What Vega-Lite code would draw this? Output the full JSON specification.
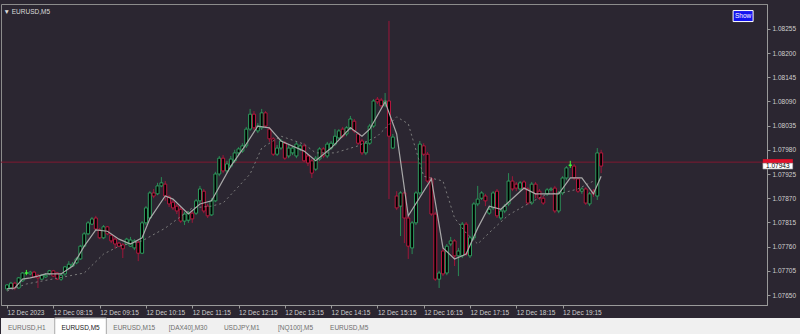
{
"$schema":"https://vega.github.io/schema/vega-lite/v6.json",
"background":"#2b2631",
"padding":{"left":0,"top":3,"right":0,"bottom":0},
"config":{"font":"Liberation Sans","view":{"stroke":null},"concat":{"spacing":1},"axis":{"labelOverlap":false}},
"datasets":{
"candles":[
{"t":"2023-12-12 07:15","o":1.07664,"h":1.07675,"l":1.07659,"c":1.07673},
{"t":"2023-12-12 07:20","o":1.07666,"h":1.07680,"l":1.07664,"c":1.07677},
{"t":"2023-12-12 07:25","o":1.07677,"h":1.07680,"l":1.07661,"c":1.07666},
{"t":"2023-12-12 07:30","o":1.07666,"h":1.07691,"l":1.07664,"c":1.07689},
{"t":"2023-12-12 07:35","o":1.07682,"h":1.07702,"l":1.07680,"c":1.07700},
{"t":"2023-12-12 07:40","o":1.07700,"h":1.07707,"l":1.07695,"c":1.07700},
{"t":"2023-12-12 07:45","o":1.07698,"h":1.07705,"l":1.07695,"c":1.07702},
{"t":"2023-12-12 07:50","o":1.07702,"h":1.07705,"l":1.07689,"c":1.07691},
{"t":"2023-12-12 07:55","o":1.07695,"h":1.07698,"l":1.07666,"c":1.07689},
{"t":"2023-12-12 08:00","o":1.07686,"h":1.07698,"l":1.07684,"c":1.07695},
{"t":"2023-12-12 08:05","o":1.07691,"h":1.07700,"l":1.07689,"c":1.07695},
{"t":"2023-12-12 08:10","o":1.07698,"h":1.07707,"l":1.07695,"c":1.07705},
{"t":"2023-12-12 08:15","o":1.07705,"h":1.07707,"l":1.07691,"c":1.07693},
{"t":"2023-12-12 08:20","o":1.07700,"h":1.07702,"l":1.07684,"c":1.07686},
{"t":"2023-12-12 08:25","o":1.07686,"h":1.07700,"l":1.07682,"c":1.07695},
{"t":"2023-12-12 08:30","o":1.07698,"h":1.07716,"l":1.07693,"c":1.07714},
{"t":"2023-12-12 08:35","o":1.07711,"h":1.07727,"l":1.07709,"c":1.07720},
{"t":"2023-12-12 08:40","o":1.07716,"h":1.07725,"l":1.07714,"c":1.07720},
{"t":"2023-12-12 08:45","o":1.07723,"h":1.07736,"l":1.07720,"c":1.07732},
{"t":"2023-12-12 08:50","o":1.07732,"h":1.07764,"l":1.07730,"c":1.07761},
{"t":"2023-12-12 08:55","o":1.07761,"h":1.07793,"l":1.07759,"c":1.07789},
{"t":"2023-12-12 09:00","o":1.07789,"h":1.07818,"l":1.07786,"c":1.07814},
{"t":"2023-12-12 09:05","o":1.07811,"h":1.07827,"l":1.07809,"c":1.07823},
{"t":"2023-12-12 09:10","o":1.07825,"h":1.07830,"l":1.07798,"c":1.07800},
{"t":"2023-12-12 09:15","o":1.07798,"h":1.07802,"l":1.07777,"c":1.07780},
{"t":"2023-12-12 09:20","o":1.07780,"h":1.07809,"l":1.07777,"c":1.07805},
{"t":"2023-12-12 09:25","o":1.07805,"h":1.07807,"l":1.07786,"c":1.07789},
{"t":"2023-12-12 09:30","o":1.07786,"h":1.07789,"l":1.07768,"c":1.07773},
{"t":"2023-12-12 09:35","o":1.07777,"h":1.07782,"l":1.07755,"c":1.07766},
{"t":"2023-12-12 09:40","o":1.07768,"h":1.07770,"l":1.07759,"c":1.07761},
{"t":"2023-12-12 09:45","o":1.07764,"h":1.07768,"l":1.07734,"c":1.07755},
{"t":"2023-12-12 09:50","o":1.07766,"h":1.07780,"l":1.07764,"c":1.07777},
{"t":"2023-12-12 09:55","o":1.07761,"h":1.07782,"l":1.07759,"c":1.07775},
{"t":"2023-12-12 10:00","o":1.07757,"h":1.07777,"l":1.07752,"c":1.07773},
{"t":"2023-12-12 10:05","o":1.07770,"h":1.07773,"l":1.07727,"c":1.07745},
{"t":"2023-12-12 10:10","o":1.07745,"h":1.07818,"l":1.07743,"c":1.07814},
{"t":"2023-12-12 10:15","o":1.07814,"h":1.07852,"l":1.07809,"c":1.07848},
{"t":"2023-12-12 10:20","o":1.07825,"h":1.07886,"l":1.07823,"c":1.07882},
{"t":"2023-12-12 10:25","o":1.07882,"h":1.07891,"l":1.07870,"c":1.07875},
{"t":"2023-12-12 10:30","o":1.07880,"h":1.07905,"l":1.07877,"c":1.07898},
{"t":"2023-12-12 10:35","o":1.07898,"h":1.07918,"l":1.07895,"c":1.07905},
{"t":"2023-12-12 10:40","o":1.07902,"h":1.07909,"l":1.07864,"c":1.07875},
{"t":"2023-12-12 10:45","o":1.07873,"h":1.07877,"l":1.07850,"c":1.07857},
{"t":"2023-12-12 10:50","o":1.07861,"h":1.07866,"l":1.07843,"c":1.07848},
{"t":"2023-12-12 10:55","o":1.07852,"h":1.07857,"l":1.07834,"c":1.07841},
{"t":"2023-12-12 11:00","o":1.07845,"h":1.07850,"l":1.07814,"c":1.07818},
{"t":"2023-12-12 11:05","o":1.07818,"h":1.07839,"l":1.07809,"c":1.07834},
{"t":"2023-12-12 11:10","o":1.07820,"h":1.07841,"l":1.07814,"c":1.07836},
{"t":"2023-12-12 11:15","o":1.07836,"h":1.07843,"l":1.07814,"c":1.07823},
{"t":"2023-12-12 11:20","o":1.07836,"h":1.07868,"l":1.07832,"c":1.07864},
{"t":"2023-12-12 11:25","o":1.07864,"h":1.07898,"l":1.07859,"c":1.07891},
{"t":"2023-12-12 11:30","o":1.07886,"h":1.07891,"l":1.07836,"c":1.07841},
{"t":"2023-12-12 11:35","o":1.07852,"h":1.07857,"l":1.07825,"c":1.07830},
{"t":"2023-12-12 11:40","o":1.07832,"h":1.07870,"l":1.07830,"c":1.07864},
{"t":"2023-12-12 11:45","o":1.07864,"h":1.07930,"l":1.07861,"c":1.07925},
{"t":"2023-12-12 11:50","o":1.07925,"h":1.07966,"l":1.07920,"c":1.07961},
{"t":"2023-12-12 11:55","o":1.07961,"h":1.07968,"l":1.07927,"c":1.07932},
{"t":"2023-12-12 12:00","o":1.07932,"h":1.07955,"l":1.07927,"c":1.07948},
{"t":"2023-12-12 12:05","o":1.07943,"h":1.07966,"l":1.07939,"c":1.07959},
{"t":"2023-12-12 12:10","o":1.07955,"h":1.07980,"l":1.07950,"c":1.07973},
{"t":"2023-12-12 12:15","o":1.07973,"h":1.07986,"l":1.07968,"c":1.07982},
{"t":"2023-12-12 12:20","o":1.07977,"h":1.07995,"l":1.07973,"c":1.07989},
{"t":"2023-12-12 12:25","o":1.07989,"h":1.08032,"l":1.07984,"c":1.08027},
{"t":"2023-12-12 12:30","o":1.08027,"h":1.08073,"l":1.08023,"c":1.08061},
{"t":"2023-12-12 12:35","o":1.08061,"h":1.08068,"l":1.08025,"c":1.08030},
{"t":"2023-12-12 12:40","o":1.08023,"h":1.08041,"l":1.08018,"c":1.08034},
{"t":"2023-12-12 12:45","o":1.08030,"h":1.08073,"l":1.08025,"c":1.08064},
{"t":"2023-12-12 12:50","o":1.08064,"h":1.08068,"l":1.08030,"c":1.08034},
{"t":"2023-12-12 12:55","o":1.08027,"h":1.08032,"l":1.07998,"c":1.08005},
{"t":"2023-12-12 13:00","o":1.08005,"h":1.08009,"l":1.07966,"c":1.07970},
{"t":"2023-12-12 13:05","o":1.07970,"h":1.07991,"l":1.07966,"c":1.07984},
{"t":"2023-12-12 13:10","o":1.07984,"h":1.08005,"l":1.07980,"c":1.08000},
{"t":"2023-12-12 13:15","o":1.07995,"h":1.08000,"l":1.07957,"c":1.07961},
{"t":"2023-12-12 13:20","o":1.07966,"h":1.07991,"l":1.07961,"c":1.07984},
{"t":"2023-12-12 13:25","o":1.07973,"h":1.07989,"l":1.07968,"c":1.07984},
{"t":"2023-12-12 13:30","o":1.07966,"h":1.07998,"l":1.07961,"c":1.07993},
{"t":"2023-12-12 13:35","o":1.07982,"h":1.07993,"l":1.07977,"c":1.07989},
{"t":"2023-12-12 13:40","o":1.07989,"h":1.07995,"l":1.07952,"c":1.07955},
{"t":"2023-12-12 13:45","o":1.07966,"h":1.07970,"l":1.07943,"c":1.07950},
{"t":"2023-12-12 13:50","o":1.07955,"h":1.07959,"l":1.07916,"c":1.07927},
{"t":"2023-12-12 13:55","o":1.07936,"h":1.07966,"l":1.07932,"c":1.07961},
{"t":"2023-12-12 14:00","o":1.07959,"h":1.07986,"l":1.07955,"c":1.07982},
{"t":"2023-12-12 14:05","o":1.07982,"h":1.07986,"l":1.07961,"c":1.07966},
{"t":"2023-12-12 14:10","o":1.07966,"h":1.07998,"l":1.07961,"c":1.07993},
{"t":"2023-12-12 14:15","o":1.07984,"h":1.08000,"l":1.07980,"c":1.07995},
{"t":"2023-12-12 14:20","o":1.07993,"h":1.08027,"l":1.07989,"c":1.08011},
{"t":"2023-12-12 14:25","o":1.08007,"h":1.08027,"l":1.08005,"c":1.08023},
{"t":"2023-12-12 14:30","o":1.08027,"h":1.08032,"l":1.08007,"c":1.08011},
{"t":"2023-12-12 14:35","o":1.08016,"h":1.08034,"l":1.08011,"c":1.08030},
{"t":"2023-12-12 14:40","o":1.08030,"h":1.08057,"l":1.08025,"c":1.08050},
{"t":"2023-12-12 14:45","o":1.08045,"h":1.08050,"l":1.08018,"c":1.08023},
{"t":"2023-12-12 14:50","o":1.08016,"h":1.08020,"l":1.07991,"c":1.07995},
{"t":"2023-12-12 14:55","o":1.08000,"h":1.08005,"l":1.07968,"c":1.07973},
{"t":"2023-12-12 15:00","o":1.07973,"h":1.08000,"l":1.07968,"c":1.07995},
{"t":"2023-12-12 15:05","o":1.07995,"h":1.08039,"l":1.07991,"c":1.08034},
{"t":"2023-12-12 15:10","o":1.08034,"h":1.08095,"l":1.08030,"c":1.08091},
{"t":"2023-12-12 15:15","o":1.08095,"h":1.08100,"l":1.08084,"c":1.08089},
{"t":"2023-12-12 15:20","o":1.08093,"h":1.08098,"l":1.08075,"c":1.08080},
{"t":"2023-12-12 15:25","o":1.08082,"h":1.08109,"l":1.08077,"c":1.08091},
{"t":"2023-12-12 15:30","o":1.08091,"h":1.08273,"l":1.07868,"c":1.08011},
{"t":"2023-12-12 15:35","o":1.07984,"h":1.08016,"l":1.07982,"c":1.08009},
{"t":"2023-12-12 15:40","o":1.07875,"h":1.07886,"l":1.07843,"c":1.07848},
{"t":"2023-12-12 15:45","o":1.07852,"h":1.07886,"l":1.07784,"c":1.07882},
{"t":"2023-12-12 15:50","o":1.07882,"h":1.07886,"l":1.07768,"c":1.07825},
{"t":"2023-12-12 15:55","o":1.07825,"h":1.07830,"l":1.07732,"c":1.07761},
{"t":"2023-12-12 16:00","o":1.07757,"h":1.07818,"l":1.07743,"c":1.07814},
{"t":"2023-12-12 16:05","o":1.07814,"h":1.07886,"l":1.07809,"c":1.07882},
{"t":"2023-12-12 16:10","o":1.07882,"h":1.08000,"l":1.07877,"c":1.07993},
{"t":"2023-12-12 16:15","o":1.07989,"h":1.07995,"l":1.07966,"c":1.07970},
{"t":"2023-12-12 16:20","o":1.07970,"h":1.07975,"l":1.07905,"c":1.07909},
{"t":"2023-12-12 16:25","o":1.07914,"h":1.07918,"l":1.07830,"c":1.07834},
{"t":"2023-12-12 16:30","o":1.07834,"h":1.07839,"l":1.07682,"c":1.07686},
{"t":"2023-12-12 16:35","o":1.07686,"h":1.07705,"l":1.07666,"c":1.07700},
{"t":"2023-12-12 16:40","o":1.07750,"h":1.07757,"l":1.07693,"c":1.07698},
{"t":"2023-12-12 16:45","o":1.07700,"h":1.07766,"l":1.07695,"c":1.07761},
{"t":"2023-12-12 16:50","o":1.07766,"h":1.07782,"l":1.07761,"c":1.07773},
{"t":"2023-12-12 16:55","o":1.07773,"h":1.07777,"l":1.07716,"c":1.07739},
{"t":"2023-12-12 17:00","o":1.07739,"h":1.07757,"l":1.07693,"c":1.07750},
{"t":"2023-12-12 17:05","o":1.07739,"h":1.07816,"l":1.07734,"c":1.07811},
{"t":"2023-12-12 17:10","o":1.07811,"h":1.07816,"l":1.07739,"c":1.07743},
{"t":"2023-12-12 17:15","o":1.07739,"h":1.07784,"l":1.07734,"c":1.07780},
{"t":"2023-12-12 17:20","o":1.07780,"h":1.07861,"l":1.07775,"c":1.07857},
{"t":"2023-12-12 17:25","o":1.07857,"h":1.07898,"l":1.07852,"c":1.07868},
{"t":"2023-12-12 17:30","o":1.07870,"h":1.07886,"l":1.07866,"c":1.07882},
{"t":"2023-12-12 17:35","o":1.07875,"h":1.07880,"l":1.07852,"c":1.07864},
{"t":"2023-12-12 17:40","o":1.07836,"h":1.07850,"l":1.07832,"c":1.07845},
{"t":"2023-12-12 17:45","o":1.07848,"h":1.07886,"l":1.07843,"c":1.07882},
{"t":"2023-12-12 17:50","o":1.07886,"h":1.07891,"l":1.07825,"c":1.07830},
{"t":"2023-12-12 17:55","o":1.07825,"h":1.07845,"l":1.07820,"c":1.07841},
{"t":"2023-12-12 18:00","o":1.07841,"h":1.07857,"l":1.07836,"c":1.07852},
{"t":"2023-12-12 18:05","o":1.07857,"h":1.07927,"l":1.07852,"c":1.07909},
{"t":"2023-12-12 18:10","o":1.07909,"h":1.07920,"l":1.07886,"c":1.07891},
{"t":"2023-12-12 18:15","o":1.07902,"h":1.07907,"l":1.07886,"c":1.07893},
{"t":"2023-12-12 18:20","o":1.07891,"h":1.07909,"l":1.07886,"c":1.07905},
{"t":"2023-12-12 18:25","o":1.07907,"h":1.07911,"l":1.07889,"c":1.07893},
{"t":"2023-12-12 18:30","o":1.07891,"h":1.07895,"l":1.07855,"c":1.07859},
{"t":"2023-12-12 18:35","o":1.07859,"h":1.07907,"l":1.07855,"c":1.07902},
{"t":"2023-12-12 18:40","o":1.07902,"h":1.07907,"l":1.07870,"c":1.07880},
{"t":"2023-12-12 18:45","o":1.07886,"h":1.07891,"l":1.07866,"c":1.07870},
{"t":"2023-12-12 18:50","o":1.07870,"h":1.07875,"l":1.07855,"c":1.07859},
{"t":"2023-12-12 18:55","o":1.07880,"h":1.07893,"l":1.07875,"c":1.07889},
{"t":"2023-12-12 19:00","o":1.07889,"h":1.07895,"l":1.07886,"c":1.07891},
{"t":"2023-12-12 19:05","o":1.07893,"h":1.07898,"l":1.07836,"c":1.07841},
{"t":"2023-12-12 19:10","o":1.07841,"h":1.07886,"l":1.07836,"c":1.07882},
{"t":"2023-12-12 19:15","o":1.07882,"h":1.07920,"l":1.07877,"c":1.07916},
{"t":"2023-12-12 19:20","o":1.07916,"h":1.07943,"l":1.07911,"c":1.07939},
{"t":"2023-12-12 19:25","o":1.07945,"h":1.07955,"l":1.07939,"c":1.07945},
{"t":"2023-12-12 19:30","o":1.07943,"h":1.07948,"l":1.07911,"c":1.07916},
{"t":"2023-12-12 19:35","o":1.07914,"h":1.07918,"l":1.07882,"c":1.07886},
{"t":"2023-12-12 19:40","o":1.07886,"h":1.07895,"l":1.07880,"c":1.07891},
{"t":"2023-12-12 19:45","o":1.07891,"h":1.07895,"l":1.07855,"c":1.07859},
{"t":"2023-12-12 19:50","o":1.07857,"h":1.07884,"l":1.07852,"c":1.07880},
{"t":"2023-12-12 19:55","o":1.07886,"h":1.07891,"l":1.07873,"c":1.07880},
{"t":"2023-12-12 20:00","o":1.07875,"h":1.07984,"l":1.07866,"c":1.07973},
{"t":"2023-12-12 20:05","o":1.07973,"h":1.07980,"l":1.07927,"c":1.07943}
],
"fast":[
{"t":"2023-12-12 07:15","v":1.07664},{"t":"2023-12-12 07:25","v":1.07666},{"t":"2023-12-12 07:35","v":1.07686},{"t":"2023-12-12 07:45","v":1.07689},
{"t":"2023-12-12 07:55","v":1.07693},{"t":"2023-12-12 08:05","v":1.07698},{"t":"2023-12-12 08:25","v":1.07698},{"t":"2023-12-12 08:40","v":1.07716},
{"t":"2023-12-12 08:55","v":1.07761},{"t":"2023-12-12 09:10","v":1.07798},{"t":"2023-12-12 09:25","v":1.07795},{"t":"2023-12-12 09:40","v":1.07777},
{"t":"2023-12-12 09:55","v":1.07766},{"t":"2023-12-12 10:10","v":1.07780},{"t":"2023-12-12 10:20","v":1.07823},{"t":"2023-12-12 10:40","v":1.07875},
{"t":"2023-12-12 10:50","v":1.07868},{"t":"2023-12-12 11:10","v":1.07834},{"t":"2023-12-12 11:25","v":1.07857},{"t":"2023-12-12 11:40","v":1.07864},
{"t":"2023-12-12 12:05","v":1.07943},{"t":"2023-12-12 12:25","v":1.07993},{"t":"2023-12-12 12:40","v":1.08034},{"t":"2023-12-12 12:55","v":1.08030},
{"t":"2023-12-12 13:10","v":1.08000},{"t":"2023-12-12 13:40","v":1.07977},{"t":"2023-12-12 13:55","v":1.07955},{"t":"2023-12-12 14:15","v":1.07984},
{"t":"2023-12-12 14:40","v":1.08030},{"t":"2023-12-12 14:55","v":1.08011},{"t":"2023-12-12 15:05","v":1.08027},{"t":"2023-12-12 15:25","v":1.08089},
{"t":"2023-12-12 15:40","v":1.08016},{"t":"2023-12-12 15:55","v":1.07830},{"t":"2023-12-12 16:25","v":1.07914},{"t":"2023-12-12 16:40","v":1.07757},
{"t":"2023-12-12 16:55","v":1.07732},{"t":"2023-12-12 17:10","v":1.07743},{"t":"2023-12-12 17:25","v":1.07802},{"t":"2023-12-12 17:40","v":1.07852},
{"t":"2023-12-12 17:55","v":1.07845},{"t":"2023-12-12 18:25","v":1.07893},{"t":"2023-12-12 18:40","v":1.07880},{"t":"2023-12-12 19:10","v":1.07880},
{"t":"2023-12-12 19:25","v":1.07916},{"t":"2023-12-12 19:40","v":1.07916},{"t":"2023-12-12 19:55","v":1.07880},{"t":"2023-12-12 20:05","v":1.07920}
],
"slow":[
{"t":"2023-12-12 07:15","v":1.07659},{"t":"2023-12-12 07:40","v":1.07675},{"t":"2023-12-12 08:55","v":1.07700},{"t":"2023-12-12 09:20","v":1.07743},
{"t":"2023-12-12 09:40","v":1.07761},{"t":"2023-12-12 10:10","v":1.07773},{"t":"2023-12-12 10:40","v":1.07802},{"t":"2023-12-12 11:15","v":1.07848},
{"t":"2023-12-12 11:40","v":1.07852},{"t":"2023-12-12 11:55","v":1.07859},{"t":"2023-12-12 12:30","v":1.07925},{"t":"2023-12-12 12:45","v":1.07984},
{"t":"2023-12-12 13:10","v":1.08011},{"t":"2023-12-12 13:40","v":1.07993},{"t":"2023-12-12 13:55","v":1.07973},{"t":"2023-12-12 14:20","v":1.07973},
{"t":"2023-12-12 14:50","v":1.07989},{"t":"2023-12-12 15:15","v":1.08011},{"t":"2023-12-12 15:40","v":1.08055},{"t":"2023-12-12 15:55","v":1.08039},
{"t":"2023-12-12 16:15","v":1.07920},{"t":"2023-12-12 16:40","v":1.07909},{"t":"2023-12-12 16:55","v":1.07825},{"t":"2023-12-12 17:10","v":1.07791},
{"t":"2023-12-12 17:25","v":1.07766},{"t":"2023-12-12 17:45","v":1.07800},{"t":"2023-12-12 18:05","v":1.07832},{"t":"2023-12-12 18:30","v":1.07857},
{"t":"2023-12-12 18:55","v":1.07880},{"t":"2023-12-12 19:15","v":1.07882},{"t":"2023-12-12 19:35","v":1.07891},{"t":"2023-12-12 19:55","v":1.07909}
],
"quote":[{"bid":1.07943,"ask":1.07952}],
"buttons":[{"label":"Show"}],
"tabs":[
{"pos":1,"tab":"EURUSD,H1","active":false},
{"pos":2,"tab":"EURUSD,M5","active":true},
{"pos":3,"tab":"EURUSD,M15","active":false},
{"pos":4,"tab":"[DAX40],M30","active":false},
{"pos":5,"tab":"USDJPY,M1","active":false},
{"pos":6,"tab":"[NQ100],M5","active":false},
{"pos":7,"tab":"EURUSD,M5","active":false}
]
},
"vconcat":[
{
"width":766,"height":301,
"view":{"stroke":"#8c8c8c"},
"title":{"text":"▼ EURUSD,M5","anchor":"start","orient":"top","offset":-11,"dx":3,"fontSize":6.5,"fontWeight":"normal","color":"#dcdcdc","font":"Liberation Sans"},
"layer":[
{"data":{"name":"quote"},"mark":{"type":"rule","color":"#7e1830","strokeWidth":1},
 "encoding":{"y":{"field":"ask","type":"quantitative","title":null,"scale":{"domain":[1.076273,1.083114],"zero":false,"nice":false},
   "axis":{"orient":"right","values":[1.0765,1.07705,1.0776,1.07815,1.0787,1.07925,1.0798,1.08035,1.0809,1.08145,1.082,1.08255],"tickCount":20,
        "format":".5f","labelFontSize":6.5,"labelColor":"#cfcfcf","labelFont":"Liberation Sans","labelPadding":2,"tickSize":3,"tickColor":"#9a9a9a","domainColor":"#9a9a9a","grid":false,"labelOverlap":false,"labelFlush":false,"labelBound":false}}}},
{"data":{"name":"candles"},"mark":{"type":"rule","strokeWidth":1},
 "encoding":{
  "x":{"field":"t","type":"temporal","title":null,
       "scale":{"domain":[{"year":2023,"month":12,"date":12,"hours":7,"minutes":13,"seconds":36},{"year":2023,"month":12,"date":12,"hours":23,"minutes":33,"seconds":30}]},
       "axis":{"values":[
         {"year":2023,"month":12,"date":12,"hours":7,"minutes":15},{"year":2023,"month":12,"date":12,"hours":8,"minutes":15},
         {"year":2023,"month":12,"date":12,"hours":9,"minutes":15},{"year":2023,"month":12,"date":12,"hours":10,"minutes":15},
         {"year":2023,"month":12,"date":12,"hours":11,"minutes":15},{"year":2023,"month":12,"date":12,"hours":12,"minutes":15},
         {"year":2023,"month":12,"date":12,"hours":13,"minutes":15},{"year":2023,"month":12,"date":12,"hours":14,"minutes":15},
         {"year":2023,"month":12,"date":12,"hours":15,"minutes":15},{"year":2023,"month":12,"date":12,"hours":16,"minutes":15},
         {"year":2023,"month":12,"date":12,"hours":17,"minutes":15},{"year":2023,"month":12,"date":12,"hours":18,"minutes":15},
         {"year":2023,"month":12,"date":12,"hours":19,"minutes":15}],"tickCount":30,
        "labelExpr":"timeFormat(datum.value, '%H:%M') == '07:15' ? '12 Dec 2023' : timeFormat(datum.value, '%d %b %H:%M')",
        "labelAlign":"left","labelBaseline":"top","labelPadding":1,"labelFontSize":6.5,"labelColor":"#cfcfcf","labelFont":"Liberation Sans",
        "tickSize":3,"tickColor":"#9a9a9a","domainColor":"#9a9a9a","grid":false,"labelOverlap":false,"labelFlush":false,"labelBound":false}},
  "y":{"field":"l","type":"quantitative","title":null,"scale":{"domain":[1.076273,1.083114],"zero":false,"nice":false},
       "axis":{"orient":"right","values":[1.0765,1.07705,1.0776,1.07815,1.0787,1.07925,1.0798,1.08035,1.0809,1.08145,1.082,1.08255],"tickCount":20,
        "format":".5f","labelFontSize":6.5,"labelColor":"#cfcfcf","labelFont":"Liberation Sans","labelPadding":2,"tickSize":3,"tickColor":"#9a9a9a","domainColor":"#9a9a9a","grid":false,"labelOverlap":false,"labelFlush":false,"labelBound":false}},
  "y2":{"field":"h"},
  "stroke":{"condition":[{"test":"datum.c == datum.o","value":"#3cff3c"},{"test":"datum.c > datum.o","value":"#2a8a55"}],"value":"#9e1639"}
 }},
{"data":{"name":"candles"},"mark":{"type":"bar","width":3,"fill":"#000000","strokeWidth":1},
 "encoding":{
  "x":{"field":"t","type":"temporal","title":null,"scale":{"domain":[{"year":2023,"month":12,"date":12,"hours":7,"minutes":13,"seconds":36},{"year":2023,"month":12,"date":12,"hours":23,"minutes":33,"seconds":30}]}},
  "y":{"field":"o","type":"quantitative","title":null,"scale":{"domain":[1.076273,1.083114],"zero":false,"nice":false}},
  "y2":{"field":"c"},
  "stroke":{"condition":[{"test":"datum.c == datum.o","value":"#3cff3c"},{"test":"datum.c > datum.o","value":"#2e9b5e"}],"value":"#b8173f"}
 }},
{"data":{"name":"slow"},"mark":{"type":"line","color":"#7c7c7c","strokeWidth":1,"strokeDash":[2,3]},
 "encoding":{
  "x":{"field":"t","type":"temporal","title":null,"scale":{"domain":[{"year":2023,"month":12,"date":12,"hours":7,"minutes":13,"seconds":36},{"year":2023,"month":12,"date":12,"hours":23,"minutes":33,"seconds":30}]}},
  "y":{"field":"v","type":"quantitative","title":null,"scale":{"domain":[1.076273,1.083114],"zero":false,"nice":false}}
 }},
{"data":{"name":"fast"},"mark":{"type":"line","color":"#a9a9a9","strokeWidth":1.2},
 "encoding":{
  "x":{"field":"t","type":"temporal","title":null,"scale":{"domain":[{"year":2023,"month":12,"date":12,"hours":7,"minutes":13,"seconds":36},{"year":2023,"month":12,"date":12,"hours":23,"minutes":33,"seconds":30}]}},
  "y":{"field":"v","type":"quantitative","title":null,"scale":{"domain":[1.076273,1.083114],"zero":false,"nice":false}}
 }},
{"data":{"name":"quote"},"mark":{"type":"point","shape":"M-1,-0.2H1V0.2H-1Z","size":900,"filled":true,"color":"#e0102a","strokeWidth":0,"opacity":1},
 "encoding":{
  "x":{"datum":{"year":2023,"month":12,"date":12,"hours":23,"minutes":54},"type":"temporal","title":null,"scale":{"domain":[{"year":2023,"month":12,"date":12,"hours":7,"minutes":13,"seconds":36},{"year":2023,"month":12,"date":12,"hours":23,"minutes":33,"seconds":30}]}},
  "y":{"field":"ask","type":"quantitative","title":null,"scale":{"domain":[1.076273,1.083114],"zero":false,"nice":false}}
 }},
{"data":{"name":"quote"},"mark":{"type":"point","shape":"M-1,-0.2H1V0.2H-1Z","size":900,"filled":true,"color":"#ffffff","stroke":"#7a7a7a","strokeWidth":0.5,"opacity":1},
 "encoding":{
  "x":{"datum":{"year":2023,"month":12,"date":12,"hours":23,"minutes":54},"type":"temporal","title":null,"scale":{"domain":[{"year":2023,"month":12,"date":12,"hours":7,"minutes":13,"seconds":36},{"year":2023,"month":12,"date":12,"hours":23,"minutes":33,"seconds":30}]}},
  "y":{"field":"bid","type":"quantitative","title":null,"scale":{"domain":[1.076273,1.083114],"zero":false,"nice":false}}
 }},
{"data":{"name":"quote"},"mark":{"type":"text","fontSize":6.5,"font":"Liberation Sans","color":"#000000","align":"center","baseline":"middle"},
 "encoding":{
  "x":{"datum":{"year":2023,"month":12,"date":12,"hours":23,"minutes":54},"type":"temporal","title":null,"scale":{"domain":[{"year":2023,"month":12,"date":12,"hours":7,"minutes":13,"seconds":36},{"year":2023,"month":12,"date":12,"hours":23,"minutes":33,"seconds":30}]}},
  "y":{"field":"bid","type":"quantitative","title":null,"scale":{"domain":[1.076273,1.083114],"zero":false,"nice":false}},
  "text":{"field":"bid","type":"quantitative","format":".5f"}
 }},
{"data":{"name":"buttons"},"mark":{"type":"point","shape":"M-1,-0.55H1V0.55H-1Z","size":400,"filled":true,"color":"#1414f0","stroke":"#ffffff","strokeWidth":1,"opacity":1},
 "encoding":{
  "x":{"datum":{"year":2023,"month":12,"date":12,"hours":23,"minutes":9},"type":"temporal","title":null,"scale":{"domain":[{"year":2023,"month":12,"date":12,"hours":7,"minutes":13,"seconds":36},{"year":2023,"month":12,"date":12,"hours":23,"minutes":33,"seconds":30}]}},
  "y":{"datum":1.08284,"type":"quantitative","title":null,"scale":{"domain":[1.076273,1.083114],"zero":false,"nice":false}}
 }},
{"data":{"name":"buttons"},"mark":{"type":"text","fontSize":6.5,"font":"Liberation Sans","color":"#ffffff","align":"center","baseline":"middle"},
 "encoding":{
  "x":{"datum":{"year":2023,"month":12,"date":12,"hours":23,"minutes":9},"type":"temporal","title":null,"scale":{"domain":[{"year":2023,"month":12,"date":12,"hours":7,"minutes":13,"seconds":36},{"year":2023,"month":12,"date":12,"hours":23,"minutes":33,"seconds":30}]}},
  "y":{"datum":1.08284,"type":"quantitative","title":null,"scale":{"domain":[1.076273,1.083114],"zero":false,"nice":false}},
  "text":{"field":"label"}
 }}
]
},
{
"width":800,"height":20,
"view":{"fill":"#f0f0f0","stroke":null},
"data":{"name":"tabs"},
"layer":[
{"mark":{"type":"bar","stroke":"#a8a8a8","strokeWidth":1},
 "encoding":{
  "x":{"field":"pos","type":"ordinal","scale":{"range":[0,374],"paddingInner":0.04,"paddingOuter":0},"axis":null},
  "fill":{"condition":{"test":"datum.active","value":"#ffffff"},"value":"#f0f0f0"},
  "strokeOpacity":{"condition":{"test":"datum.active","value":1},"value":0}
 }},
{"mark":{"type":"text","fontSize":6.5,"font":"Liberation Sans"},
 "encoding":{
  "x":{"field":"pos","type":"ordinal"},
  "text":{"field":"tab"},
  "color":{"condition":{"test":"datum.active","value":"#222222"},"value":"#6e6e6e"}
 }}
]
}
]
}
